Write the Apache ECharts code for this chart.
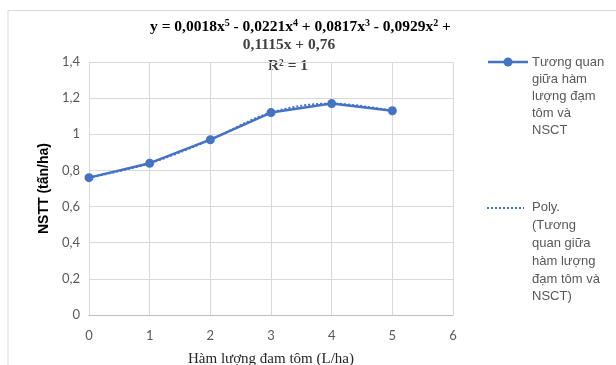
<!DOCTYPE html>
<html>
<head>
<meta charset="utf-8">
<script src="https://cdn.jsdelivr.net/npm/echarts@6/dist/echarts.min.js"></script>
<style>
  html, body { margin: 0; padding: 0; background: #ffffff; }
  #chart { width: 616px; height: 365px; }
</style>
</head>
<body>
<div id="chart"></div>
<script>
// Lượng đạm tôm (L/ha) và năng suất thực thu NSTT (tấn/ha)
const doses = [0, 1, 2, 3, 4, 5];
const yields = [0.76, 0.84, 0.97, 1.12, 1.17, 1.13];
const yTicks = [0, 0.2, 0.4, 0.6, 0.8, 1, 1.2, 1.4];
const xTicks = [0, 1, 2, 3, 4, 5, 6];

const seriesName = 'Tương quan giữa hàm lượng đạm tôm và NSCT';
const trendName = 'Poly. (Tương quan giữa hàm lượng đạm tôm và NSCT)';
const legendLines1 = ['Tương quan', 'giữa hàm', 'lượng đạm', 'tôm và', 'NSCT'];
const legendLines2 = ['Poly.', '(Tương', 'quan giữa', 'hàm lượng', 'đạm tôm và', 'NSCT)'];

const blue = '#4472C4';
const gray = '#595959';
const comma = v => String(v).replace('.', ',');

const pairs = doses.map((d, i) => [d, yields[i]]);

const chart = echarts.init(document.getElementById('chart'), null, { renderer: 'canvas' });

const eqRich = {
  m: { fontFamily: 'Liberation Serif', fontWeight: 'bold', fontSize: 15.5, color: '#404040', lineHeight: 18 },
  s: { fontFamily: 'Liberation Serif', fontWeight: 'bold', fontSize: 10, color: '#404040', lineHeight: 18, verticalAlign: 'top' }
};

chart.setOption({
  animation: false,
  backgroundColor: '#ffffff',
  grid: { left: 89, right: 163, top: 62, bottom: 50, containLabel: false, outerBoundsMode: 'none' },
  xAxis: {
    type: 'value',
    min: xTicks[0],
    max: xTicks[xTicks.length - 1],
    interval: 1,
    name: 'Hàm lượng đam tôm (L/ha)',
    nameLocation: 'middle',
    nameGap: 37,
    nameTextStyle: { fontFamily: 'Liberation Serif', fontSize: 15, color: '#262626' },
    axisLine: { show: true, lineStyle: { color: '#bfbfbf', width: 1 } },
    axisTick: { show: false },
    axisLabel: { margin: 14, color: gray, fontFamily: 'Lato', fontSize: 13 },
    splitLine: { show: true, lineStyle: { color: '#d9d9d9', width: 1 } }
  },
  yAxis: {
    type: 'value',
    min: yTicks[0],
    max: yTicks[yTicks.length - 1],
    interval: 0.2,
    name: 'NSTT (tấn/ha)',
    nameLocation: 'middle',
    nameGap: 38,
    nameTextStyle: { fontFamily: 'Liberation Sans', fontWeight: 'bold', fontSize: 14, color: '#000000' },
    axisLine: { show: false },
    axisTick: { show: false },
    axisLabel: { margin: 9, color: gray, fontFamily: 'Lato', fontSize: 13, formatter: v => comma(+v.toFixed(1)) },
    splitLine: { show: true, lineStyle: { color: '#d9d9d9', width: 1 } }
  },
  series: [
    {
      name: trendName,
      type: 'line',
      data: pairs,
      smooth: 0.35,
      showSymbol: false,
      symbol: 'none',
      lineStyle: { color: blue, width: 2, type: [2, 2] },
      z: 1,
      silent: true
    },
    {
      name: seriesName,
      type: 'line',
      data: pairs,
      symbol: 'circle',
      symbolSize: 9,
      itemStyle: { color: blue },
      lineStyle: { color: blue, width: 2.5 },
      z: 2
    }
  ],
  graphic: [
    // outer frame
    { type: 'polyline', shape: { points: [[8, 365], [8, 10.5], [616, 10.5]] }, style: { stroke: '#d9d9d9', lineWidth: 1, fill: null }, silent: true },
    // trendline equation
    {
      type: 'text', left: 150, top: 18,
      style: {
        text: '{m|y = 0,0018x}{s|5}{m| - 0,0221x}{s|4}{m| + 0,0817x}{s|3}{m| - 0,0929x}{s|2}{m| +}',
        rich: eqRich
      }
    },
    { type: 'text', x: 289, y: 45, style: { text: '0,1115x + 0,76', fontFamily: 'Liberation Serif', fontWeight: 'bold', fontSize: 15.5, fill: '#404040', align: 'center', verticalAlign: 'middle' } },
    { type: 'text', x: 288, y: 66, style: { text: 'R² = 1', fontFamily: 'Liberation Serif', fontWeight: 'bold', fontSize: 15.5, fill: '#404040', align: 'center', verticalAlign: 'middle' } },
    // legend: data series
    { type: 'line', shape: { x1: 488, y1: 62, x2: 528, y2: 62 }, style: { stroke: blue, lineWidth: 2.5 } },
    { type: 'circle', shape: { cx: 508, cy: 62, r: 4.5 }, style: { fill: blue } },
    {
      type: 'text', x: 532, y: 54,
      style: { text: legendLines1.join('\n'), fontFamily: 'Liberation Sans', fontSize: 13, lineHeight: 17, fill: gray, align: 'left', verticalAlign: 'top' }
    },
    // legend: trendline
    { type: 'line', shape: { x1: 487, y1: 208, x2: 524, y2: 208 }, style: { stroke: blue, lineWidth: 2, lineDash: [2, 2] } },
    {
      type: 'text', x: 532, y: 199,
      style: { text: legendLines2.join('\n'), fontFamily: 'Liberation Sans', fontSize: 13, lineHeight: 17.8, fill: gray, align: 'left', verticalAlign: 'top' }
    }
  ]
});
</script>
</body>
</html>
